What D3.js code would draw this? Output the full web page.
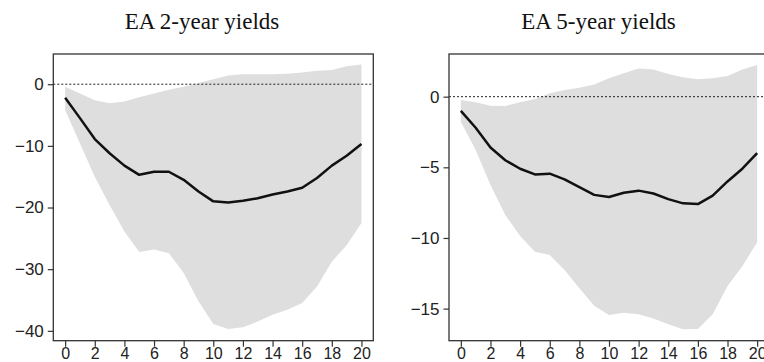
<!DOCTYPE html>
<html>
<head>
<meta charset="utf-8">
<script src="https://cdn.jsdelivr.net/npm/d3@7"></script>
<style>
  body { margin: 0; background: #fff; }
  svg { display: block; }
  .tick text { font-family: "Liberation Sans", Arial, sans-serif; font-size: 17px; fill: #222; }
  .xax .tick text { font-size: 16px; }
  .title { font-family: "Liberation Serif", "DejaVu Serif", serif; font-size: 23px; fill: #111; }
</style>
</head>
<body>
<div id="chart_container"></div>
<script>
// horizon (quarters)
var horizon = d3.range(0, 21)

// EA 2-year yields
var y2_mean  = [-2.2, -5.5, -8.9, -11.2, -13.2, -14.7, -14.2, -14.2, -15.5, -17.4, -19.0, -19.2, -18.9, -18.5, -17.9, -17.4, -16.8, -15.2, -13.2, -11.6, -9.7]
var y2_upper = [-0.4, -1.5, -2.6, -3.1, -2.8, -2.1, -1.5, -0.9, -0.4, 0.2, 0.8, 1.4, 1.6, 1.6, 1.6, 1.7, 1.9, 2.2, 2.3, 2.9, 3.2]
var y2_lower = [-4.2, -9.6, -15.0, -19.6, -23.9, -27.2, -26.8, -27.4, -30.6, -35.2, -38.9, -39.7, -39.4, -38.5, -37.4, -36.6, -35.5, -32.8, -28.8, -26.1, -22.5]
var y2_ticks = [0, -10, -20, -30, -40]

// EA 5-year yields
var y5_mean  = [-1.0, -2.2, -3.6, -4.5, -5.1, -5.5, -5.45, -5.85, -6.4, -6.95, -7.1, -6.8, -6.65, -6.85, -7.25, -7.55, -7.6, -7.0, -6.0, -5.1, -4.0]
var y5_upper = [-0.24, -0.4, -0.64, -0.66, -0.4, -0.17, 0.24, 0.47, 0.64, 0.87, 1.3, 1.65, 2.0, 1.93, 1.6, 1.37, 1.23, 1.3, 1.46, 1.93, 2.24]
var y5_lower = [-1.77, -3.77, -6.25, -8.37, -9.86, -10.97, -11.2, -12.26, -13.56, -14.8, -15.45, -15.3, -15.4, -15.7, -16.1, -16.46, -16.44, -15.4, -13.4, -12.0, -10.3]
var y5_ticks = [0, -5, -10, -15]

var x_ticks = [0, 2, 4, 6, 8, 10, 12, 14, 16, 18, 20]

var w = 764, h = 362

var svg = d3.select("#chart_container")
    .append("svg")
        .attr("width", w)
        .attr("height", h)

draw_panel({
    title: "EA 2-year yields", title_x: 202,
    left: 53.3, right: 373.3, top: 54, bottom: 340.7,
    ydom: [-41.6, 4.9], yticks: y2_ticks,
    mean: y2_mean, upper: y2_upper, lower: y2_lower
})

draw_panel({
    title: "EA 5-year yields", title_x: 598.5,
    left: 449, right: 769, top: 54, bottom: 340.7,
    ydom: [-17.27, 3.02], yticks: y5_ticks,
    mean: y5_mean, upper: y5_upper, lower: y5_lower
})

function draw_panel(p) {
    var x = d3.scaleLinear().domain([-0.8, 20.8]).range([p.left, p.right])
    var y = d3.scaleLinear().domain(p.ydom).range([p.bottom, p.top])

    var g = svg.append("g")

    var data = horizon.map(function(d, i) {
        return { h: d, m: p.mean[i], lo: p.lower[i], hi: p.upper[i] }
    })

    var band = d3.area()
        .x(function(d) { return x(d.h) })
        .y0(function(d) { return y(d.lo) })
        .y1(function(d) { return y(d.hi) })

    var line = d3.line()
        .x(function(d) { return x(d.h) })
        .y(function(d) { return y(d.m) })

    g.append("path")
        .datum(data)
        .attr("d", band)
        .style("fill", "#dedede")
        .style("stroke", "none")

    // zero line
    g.append("line")
        .attr("x1", p.left).attr("x2", p.right)
        .attr("y1", y(0)).attr("y2", y(0))
        .style("stroke", "#222")
        .style("stroke-width", 1)
        .style("stroke-dasharray", "2,2")

    g.append("path")
        .datum(data)
        .attr("d", line)
        .style("fill", "none")
        .style("stroke", "#111")
        .style("stroke-width", 2.5)
        .style("stroke-linejoin", "round")

    // frame
    g.append("rect")
        .attr("x", p.left).attr("y", p.top)
        .attr("width", p.right - p.left)
        .attr("height", p.bottom - p.top)
        .style("fill", "none")
        .style("stroke", "#333")
        .style("stroke-width", 1.3)

    var xaxis = g.append("g")
        .attr("class", "xax")
        .attr("transform", "translate(0," + p.bottom + ")")
        .call(d3.axisBottom(x).tickValues(x_ticks).tickSize(6).tickPadding(0.5))
    xaxis.select(".domain").remove()
    xaxis.selectAll(".tick line").style("stroke", "#333").style("stroke-width", 1.2)

    var yaxis = g.append("g")
        .attr("transform", "translate(" + p.left + ",0)")
        .call(d3.axisLeft(y).tickValues(p.yticks).tickSize(5.5).tickPadding(4).tickFormat(d3.format("d")))
    yaxis.select(".domain").remove()
    yaxis.selectAll(".tick line").style("stroke", "#333").style("stroke-width", 1.2)

    svg.append("text")
        .attr("class", "title")
        .attr("x", p.title_x)
        .attr("y", 28.5)
        .attr("text-anchor", "middle")
        .text(p.title)
}
</script>
</body>
</html>
